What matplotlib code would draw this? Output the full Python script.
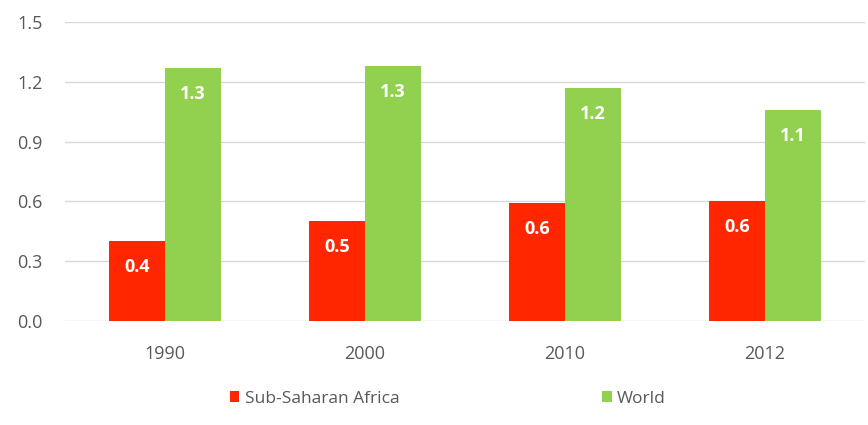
import matplotlib
matplotlib.use("Agg")
import matplotlib.pyplot as plt
import numpy as np

years = ["1990", "2000", "2010", "2012"]
ssa = [0.40, 0.50, 0.59, 0.60]
world = [1.27, 1.28, 1.17, 1.06]
series_names = ["Sub-Saharan Africa", "World"]
yticks = [0.0, 0.3, 0.6, 0.9, 1.2, 1.5]

plt.rcParams['font.family'] = ['Open Sans', 'DejaVu Sans']

fig = plt.figure(figsize=(8.68, 4.25), dpi=100)
ax = fig.add_axes([0.0749, 0.2447, 0.9216, 0.7035])

x = np.arange(len(years))
w = 0.28
red = "#FF2600"
green = "#92D050"
b1 = ax.bar(x - w/2, ssa, w, color=red, label=series_names[0], zorder=3)
b2 = ax.bar(x + w/2, world, w, color=green, label=series_names[1], zorder=3)

for bars, vals in ((b1, ssa), (b2, world)):
    for r, v in zip(bars, vals):
        ax.annotate(f"{v:.1f}", (r.get_x() + r.get_width()/2, v),
                    xytext=(0, -26), textcoords="offset pixels",
                    ha="center", va="center", color="white",
                    fontsize=13, fontweight="bold", zorder=4)

ax.set_xlim(-0.5, len(years) - 0.5)
ax.set_ylim(0, 1.5)
ax.set_yticks(yticks)
ax.set_yticklabels([f"{t:.1f}" for t in yticks])
ax.set_xticks(x)
ax.set_xticklabels(years)
ax.tick_params(axis="both", length=0, colors="#595959", labelsize=13)
ax.tick_params(axis="y", pad=16)
ax.tick_params(axis="x", pad=17)
ax.grid(axis="y", color="#D9D9D9", linewidth=1, zorder=0)
for s in ax.spines.values():
    s.set_visible(False)

fig.legend(handles=[b1, b2], labels=series_names, loc="center",
           bbox_to_anchor=(0.516, 0.062), ncol=2, frameon=False,
           fontsize=12.5, labelcolor="#595959", handlelength=0.55,
           handleheight=0.55, handletextpad=0.3, columnspacing=11.7)

fig.savefig("out.png", dpi=100)
